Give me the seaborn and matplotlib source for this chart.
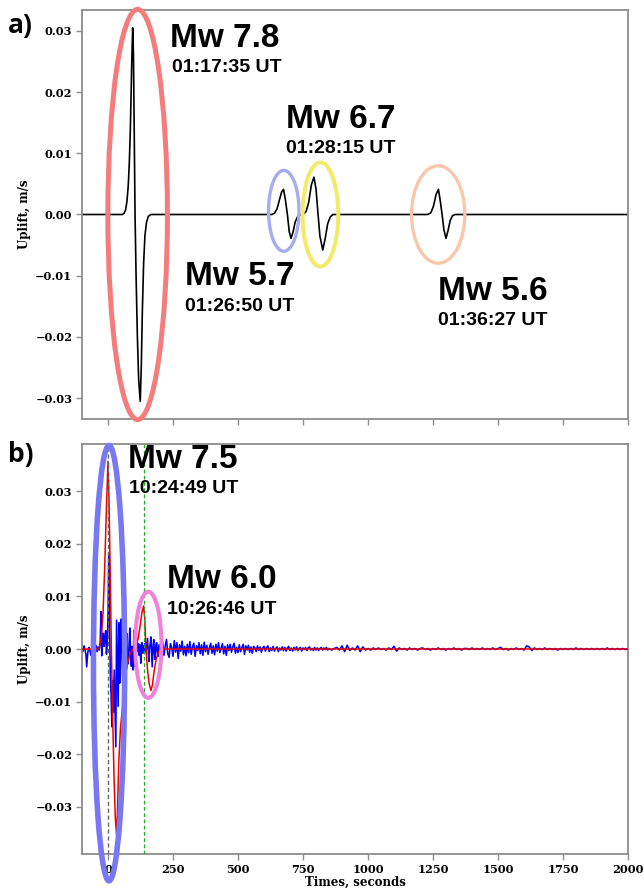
import numpy as np
import pandas as pd
import matplotlib
matplotlib.use("Agg")
import matplotlib.pyplot as plt
from matplotlib.patches import Ellipse
import seaborn as sns

# ---------------- panel a: synthetic uplift velocity, four events ----------------
pulse_78_t = [55, 62, 68, 73, 78, 82, 86, 89, 92, 95, 98, 101, 104, 108, 113, 118, 124,
              128, 132, 137, 142, 148, 155, 165]
pulse_78_v = [0, 0.0002, 0.0008, 0.0022, 0.0048, 0.0085, 0.014, 0.020, 0.026, 0.0305,
              0.026, 0.013, 0.0, -0.010, -0.020, -0.027, -0.0305, -0.025, -0.016, -0.008,
              -0.0035, -0.0013, -0.0003, 0]

pulse_57_t = [630, 640, 650, 660, 668, 675, 682, 690, 697, 704, 712, 720, 730, 740]
pulse_57_v = [0, 0.0002, 0.0009, 0.0025, 0.0037, 0.0041, 0.0025, 0.0, -0.0028, -0.0039,
              -0.0028, -0.0012, -0.0003, 0]

pulse_67_t = [750, 762, 772, 782, 792, 800, 808, 815, 826, 835, 845, 855, 865]
pulse_67_v = [0, 0.0005, 0.002, 0.0048, 0.0061, 0.0042, 0.0, -0.0035, -0.0058, -0.004,
              -0.0015, -0.0004, 0]

pulse_56_t = [1230, 1242, 1252, 1262, 1271, 1278, 1285, 1292, 1300, 1308, 1316, 1325, 1335]
pulse_56_v = [0, 0.0003, 0.0014, 0.0033, 0.0041, 0.0022, 0.0, -0.0025, -0.0039, -0.0026,
              -0.001, -0.0002, 0]

events_a_mw = ["Mw 7.8", "Mw 5.7", "Mw 6.7", "Mw 5.6"]
events_a_utc = ["01:17:35 UT", "01:26:50 UT", "01:28:15 UT", "01:36:27 UT"]

# ---------------- panel b: observed (blue) and modelled (red) uplift ----------------
obs_early_t = [-100, -96, -92, -88, -85, -82, -78, -74, -70, -66,
               -62, -58, -54, -50, -46, -42, -38, -34, -30, -27,
               -24, -21, -18, -15, -12, -9, -6, -3, 0, 3,
               6, 9, 12, 15, 18, 21, 24, 27, 30, 33,
               36, 39, 42, 45, 48, 51, 54, 57, 60, 63,
               66, 69, 72, 75, 78, 81, 84, 87, 90, 93,
               96, 100, 104, 107, 110, 114, 117, 120, 123, 126,
               129, 131, 134, 137, 140, 142, 146, 149, 152, 155,
               157, 160, 163, 165, 168, 170, 173, 176, 179, 181,
               184, 187, 190, 192, 196, 200, 204]
# observed uplift, units of 1e-4 m/s
obs_early_e4 = [2, -4, 6, -3, -10, -34, -8, 3, -2, -12,
                4, -6, 5, -3, 7, -5, 4, -2, 12, 71,
                -13, 18, 30, 5, 22, 35, -10, 8, 60, 182,
                40, -49, -90, -148, -60, -120, -40, -110, -186, 55,
                -30, -109, 50, -65, 10, 57, -20, -59, 15, 36,
                -40, 5, 30, -15, -28, 10, 40, -10, -33, 5,
                -40, 36, -34, 0, 23, -5, 10, -12, 8, -27,
                4, 12, -8, 6, -3, 10, -6, 8, 20, -5,
                -24, 2, 12, 23, -14, -34, 4, 18, -10, -20,
                6, 12, -6, -14, 8, -3, 10]

# coda, 210-850 s every 5 s (1e-4 m/s)
obs_coda5_e4 = [14, -12, 6, 18, -9, -16, 10, 3, -14, 16, -6, 12, -18, 8, -4, 15, -11, 5, -13,
                9, -7, 14, -10, 4, 11, -14, 6, -3, 12, -9, 8, -12, 13, -5, 7, -10, 3, 11, -8,
                6, -11, 9, -4, 12, -7, 2, 10, -9, 5, -12, 8, -3, 9, -6, 4, 11, -8, 3, -7,
                8, -5, 3, 9, -10, 6, -2, 7, -6, 4, -8, 5, 2, -5, 6, -3, 4, -6, 2, 5,
                -4, 3, 6, -5, 2, -3, 5, -4, 1, 4, -5, 2, -2, 4, -3, 3, -4, 2, 5, -3,
                2, -4, 3, -2, 4, -3, 1, 3, -4, 2, -1, 3, -3, 2, 4, -2, 1, -3, 3, -2,
                2, -3, 1, 3, -2, 2, -1, 3, -2, 1]
# coda, 860-2000 s every 10 s (1e-4 m/s)
obs_coda10_e4 = [-2, 1, 3, -2, 6, -5, 7, -3, 2, -2,
                 6, -5, 4, -2, 1, -2, 2, -1, 2, -1,
                 1, -2, 2, -1, 5, -4, 2, -1, 1, -2,
                 2, -1, 1, -2, 1, 2, -1, 1, -2, 1,
                 -1, 2, -1, 1, -2, 1, -1, 2, -1, 1,
                 -2, 1, 1, -1, 2, -1, 1, -1, 2, -1,
                 1, -1, 2, -1, 1, 3, -1, 1, -2, 1,
                 -1, 2, -1, 1, -2, 6, 4, -3, 2, -1,
                 1, -1, 2, -1, 1, -1, 1, -2, 1, -1,
                 1, -1, 1, -1, 2, -1, 1, -1, 1, -1,
                 1, -1, 1, -1, 1, -1, 2, -1, 1, -1,
                 1, -1, 1, -1, 0]

model_t = [-100, -40, -32, -25, -19, -13, -6, 0, 4, 8,
           13, 18, 23, 28, 33, 37, 41, 48, 55, 62,
           68, 75, 82, 90, 97, 108, 116, 124, 130, 137,
           141, 146, 152, 158, 165, 171, 178, 186, 195, 205, 2000]
model_v = [0, 0, 0.0004, 0.0025, 0.007, 0.015, 0.027, 0.0357, 0.028, 0.016,
           0.0, -0.013, -0.024, -0.032, -0.0354, -0.030, -0.022, -0.015, -0.0115, -0.0075,
           -0.005, -0.0028, -0.0014, -0.0005, 0, 0.0006, 0.002, 0.0045, 0.0068, 0.0082,
           0.006, 0.0, -0.004, -0.0065, -0.0079, -0.0068, -0.004, -0.0018, -0.0005, 0, 0]

onsets_b = [0, 140]
events_b_mw = ["Mw 7.5", "Mw 6.0"]
events_b_utc = ["10:24:49 UT", "10:26:46 UT"]

x_ticks = [0, 250, 500, 750, 1000, 1250, 1500, 1750, 2000]
y_ticks = [-0.03, -0.02, -0.01, 0.0, 0.01, 0.02, 0.03]

# ---------------- assemble the series ----------------
trace_a_t = [-100] + pulse_78_t + pulse_57_t + pulse_67_t + pulse_56_t + [2000]
trace_a_v = [0] + pulse_78_v + pulse_57_v + pulse_67_v + pulse_56_v + [0]
df_a = pd.DataFrame({"t": trace_a_t, "v": trace_a_v})

coda5_t = np.arange(210, 851, 5)
coda10_t = np.arange(860, 2001, 10)
obs_t = np.concatenate([obs_early_t, coda5_t, coda10_t])
obs_v = np.concatenate([obs_early_e4, obs_coda5_e4, obs_coda10_e4]) * 1e-4
df_obs = pd.DataFrame({"t": obs_t, "v": obs_v})
df_mod = pd.DataFrame({"t": model_t, "v": model_v})

# ---------------- style ----------------
sns.set_theme(style="ticks")
plt.rcParams["font.family"] = ["DejaVu Serif"]
plt.rcParams["font.weight"] = "bold"
plt.rcParams["axes.labelweight"] = "bold"
plt.rcParams["text.color"] = "black"
plt.rcParams["axes.labelcolor"] = "black"

fig = plt.figure(figsize=(6.44, 8.88), dpi=100)
W, H = 644, 888
ax_a = fig.add_axes([82 / W, 1 - 419 / H, 546 / W, 409 / H])
ax_b = fig.add_axes([82 / W, 1 - 854 / H, 546 / W, 410 / H])

for ax in (ax_a, ax_b):
    ax.set_xlim(-100, 2000)
    ax.set_xticks(x_ticks)
    ax.set_yticks(y_ticks)
    for sp in ax.spines.values():
        sp.set_color("#8c8c8c")
        sp.set_linewidth(1.3)
    ax.tick_params(axis="both", colors="#8c8c8c", labelcolor="black",
                   length=4, width=1.0, labelsize=8.2, pad=3)

ax_a.set_ylim(-0.0334, 0.0334)
ax_b.set_ylim(-0.039, 0.039)
ax_a.tick_params(axis="x", labelbottom=False)

# ---------------- panel a ----------------
sns.lineplot(data=df_a, x="t", y="v", ax=ax_a, color="black", linewidth=1.2,
             estimator=None, sort=False, errorbar=None)
ax_a.set_xlabel("")
ax_a.set_ylabel("Uplift, m/s", fontsize=8.5, fontweight="bold", color="black", labelpad=3)

ell_a = [  # (centre t, centre v, width s, height, colour, lw)
    (114, 0.0, 229, 0.0670, "#f47c7c", 3.6),
    (676, 0.0006, 117, 0.0132, "#a6acf2", 2.4),
    (817, 0.0, 137, 0.0170, "#f2ea6a", 2.9),
    (1270, 0.0, 205, 0.0159, "#f8c6a8", 2.4),
]
for cx, cy, w, h, c, lw in ell_a:
    ax_a.add_patch(Ellipse((cx, cy), w, h, fill=False, edgecolor=c, linewidth=lw,
                           clip_on=False, zorder=5))

sans = ["Liberation Sans", "DejaVu Sans"]
txt_a = [  # (mw x, mw baseline, utc x, utc baseline)
    (238, 0.0273, 245, 0.0232),
    (298, -0.0115, 298, -0.0158),
    (683, 0.0141, 683, 0.0100),
    (1270, -0.0140, 1270, -0.0181),
]
for (mx, my, ux, uy), mw, utc in zip(txt_a, events_a_mw, events_a_utc):
    ax_a.text(mx, my, mw, family=sans, fontweight="bold", fontsize=24, color="black",
              va="baseline", ha="left", zorder=6)
    ax_a.text(ux, uy, utc, family=sans, fontweight="bold", fontsize=14, color="black",
              va="baseline", ha="left", zorder=6)

# ---------------- panel b ----------------
sns.lineplot(data=df_obs, x="t", y="v", ax=ax_b, color="#0000ff", linewidth=1.15,
             estimator=None, sort=False, errorbar=None, zorder=2)
sns.lineplot(data=df_mod, x="t", y="v", ax=ax_b, color="#ee0000", linewidth=1.1,
             estimator=None, sort=False, errorbar=None, zorder=3)
ax_b.axvline(onsets_b[0], color="#666666", linestyle=(0, (3, 2)), linewidth=1.0, zorder=4)
ax_b.axvline(onsets_b[1], color="#22aa22", linestyle=(0, (3, 2)), linewidth=0.9, zorder=4)

ell_b = [
    (4, -0.0027, 120, 0.0828, "#7878f2", 4.0),
    (155, 0.0008, 101, 0.0202, "#f080dc", 2.9),
]
for cx, cy, w, h, c, lw in ell_b:
    ax_b.add_patch(Ellipse((cx, cy), w, h, fill=False, edgecolor=c, linewidth=lw,
                           clip_on=False, zorder=5))

txt_b = [
    (77, 0.0345, 81, 0.0297),
    (226, 0.0116, 226, 0.0067),
]
for (mx, my, ux, uy), mw, utc in zip(txt_b, events_b_mw, events_b_utc):
    ax_b.text(mx, my, mw, family=sans, fontweight="bold", fontsize=24, color="black",
              va="baseline", ha="left", zorder=6)
    ax_b.text(ux, uy, utc, family=sans, fontweight="bold", fontsize=14, color="black",
              va="baseline", ha="left", zorder=6)

ax_b.set_xlabel("Times, seconds", fontsize=8.5, fontweight="bold", color="black", labelpad=1)
ax_b.set_ylabel("Uplift, m/s", fontsize=8.5, fontweight="bold", color="black", labelpad=3)

# panel letters
panel_font = ["Open Sans", "DejaVu Sans"]
fig.text(8 / W, 1 - 33 / H, "a)", family=panel_font, fontweight="bold", fontsize=19,
         color="black", va="baseline", ha="left")
fig.text(8 / W, 1 - 462 / H, "b)", family=panel_font, fontweight="bold", fontsize=19,
         color="black", va="baseline", ha="left")

fig.savefig("out.png", dpi=100)
